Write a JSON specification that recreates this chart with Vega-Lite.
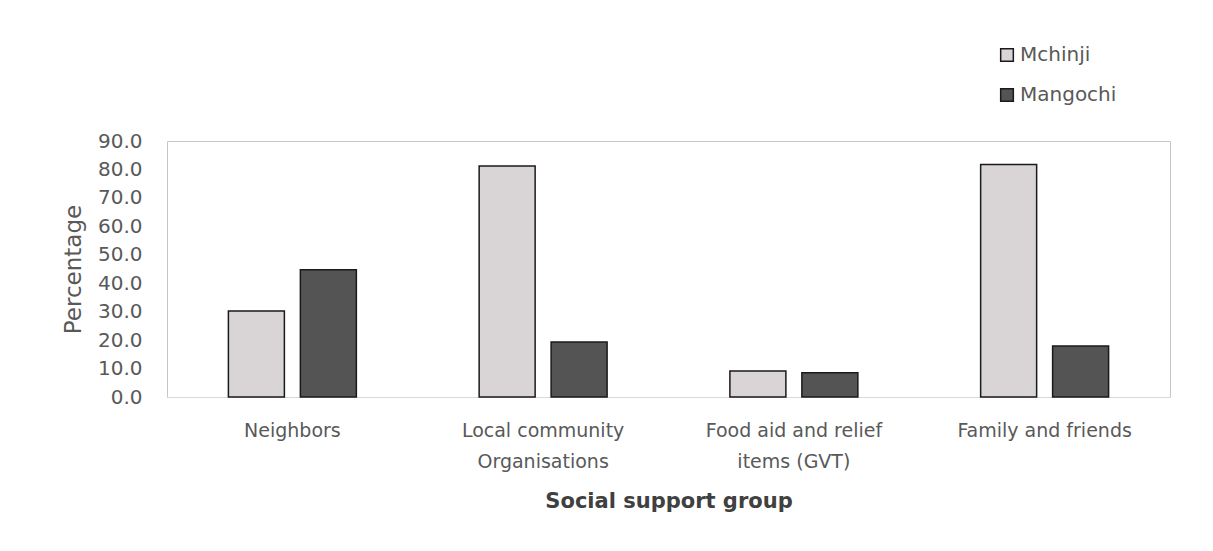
{
  "$schema": "https://vega.github.io/schema/vega-lite/v6.json",
  "width": 1003,
  "height": 256,
  "autosize": "none",
  "padding": {"left": 167, "top": 141, "right": 43, "bottom": 154},
  "background": "white",
  "config": {
    "view": {"stroke": "#c6c6c6", "strokeWidth": 1},
    "font": "DejaVu Sans"
  },
  "data": {
    "values": [
      {"group": "Neighbors", "district": "Mchinji", "pct": 30.2},
      {"group": "Neighbors", "district": "Mangochi", "pct": 44.7},
      {"group": "Local community Organisations", "district": "Mchinji", "pct": 81.2},
      {"group": "Local community Organisations", "district": "Mangochi", "pct": 19.3},
      {"group": "Food aid and relief items  (GVT)", "district": "Mchinji", "pct": 9.1},
      {"group": "Food aid and relief items  (GVT)", "district": "Mangochi", "pct": 8.5},
      {"group": "Family and friends", "district": "Mchinji", "pct": 81.7},
      {"group": "Family and friends", "district": "Mangochi", "pct": 17.9}
    ]
  },
  "mark": {"type": "bar", "stroke": "#1a1a1a", "strokeWidth": 1.5},
  "encoding": {
    "x": {
      "field": "group",
      "type": "nominal",
      "sort": null,
      "scale": {"paddingInner": 0, "paddingOuter": 0},
      "axis": {
        "title": "Social support group",
        "titleFontSize": 21,
        "titleFontWeight": "bold",
        "titleColor": "#404040",
        "titlePadding": 19,
        "labelAngle": 0,
        "labelFontSize": 19,
        "labelColor": "#595959",
        "labelPadding": 24,
        "labelLineHeight": 31,
        "ticks": false,
        "domainColor": "#d9d9d9",
        "labelExpr": "datum.label == 'Local community Organisations' ? ['Local community', 'Organisations'] : datum.label == 'Food aid and relief items  (GVT)' ? ['Food aid and relief', 'items  (GVT)'] : datum.label"
      }
    },
    "xOffset": {
      "field": "district",
      "type": "nominal",
      "sort": ["Mchinji", "Mangochi"],
      "scale": {"paddingInner": 0.222, "paddingOuter": 0.853}
    },
    "y": {
      "field": "pct",
      "type": "quantitative",
      "scale": {"domain": [0, 90]},
      "axis": {
        "title": "Percentage",
        "titleFontSize": 23,
        "titleFontWeight": "normal",
        "titleColor": "#595959",
        "titlePadding": 12,
        "values": [0, 10, 20, 30, 40, 50, 60, 70, 80, 90],
        "format": ".1f",
        "labelFontSize": 20,
        "labelColor": "#595959",
        "labelPadding": 25,
        "ticks": false,
        "domain": false,
        "grid": false
      }
    },
    "fill": {
      "field": "district",
      "type": "nominal",
      "sort": ["Mchinji", "Mangochi"],
      "scale": {"domain": ["Mchinji", "Mangochi"], "range": ["#d9d5d7", "#545454"]},
      "legend": {
        "title": null,
        "orient": "none",
        "legendX": 830,
        "legendY": -96,
        "symbolType": "square",
        "symbolSize": 160,
        "symbolStrokeColor": "#1a1a1a",
        "symbolStrokeWidth": 1.5,
        "labelFontSize": 20,
        "labelColor": "#595959",
        "rowPadding": 20,
        "labelOffset": 3
      }
    }
  }
}
